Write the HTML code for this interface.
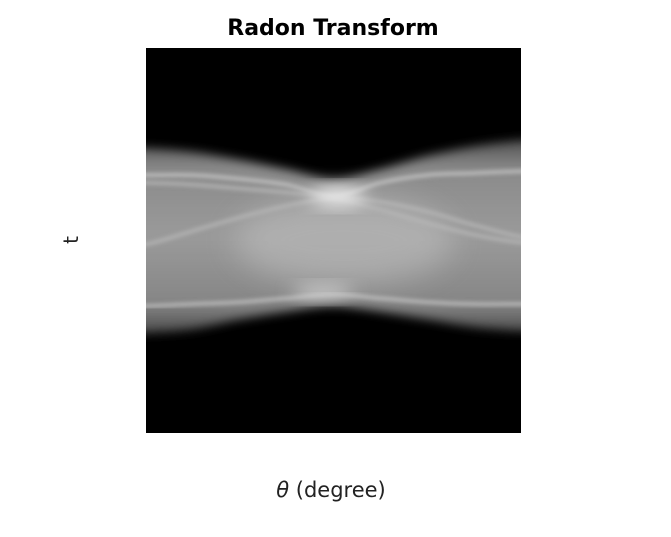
<!DOCTYPE html>
<html><head><meta charset="utf-8"><style>
body{margin:0;background:#fff;width:671px;height:533px;overflow:hidden;font-family:"DejaVu Sans","Liberation Sans",sans-serif}
</style></head><body>
<svg id="chart" width="671" height="533" viewBox="0 0 671 533" xmlns="http://www.w3.org/2000/svg">
<defs>
<filter id="b3" x="-10%" y="-20%" width="120%" height="140%"><feGaussianBlur stdDeviation="5"/></filter>
<filter id="b1" x="-10%" y="-20%" width="120%" height="140%"><feGaussianBlur stdDeviation="2"/></filter>
<filter id="b8" x="-50%" y="-50%" width="200%" height="200%"><feGaussianBlur stdDeviation="9"/></filter>
<filter id="b15" x="-50%" y="-50%" width="200%" height="200%"><feGaussianBlur stdDeviation="15"/></filter>
<linearGradient id="vg" x1="0" y1="0" x2="0" y2="1">
<stop offset="0" stop-color="#505050"/><stop offset="0.15" stop-color="#8a8a8a"/><stop offset="0.5" stop-color="#9a9a9a"/><stop offset="0.85" stop-color="#858585"/><stop offset="1" stop-color="#4a4a4a"/>
</linearGradient>
<clipPath id="clip"><rect x="146" y="48" width="375" height="385"/></clipPath>
</defs>
<text x="333" y="35" text-anchor="middle" font-size="22" font-weight="bold" fill="#000">Radon Transform</text>
<rect x="146" y="48" width="375" height="385" fill="#000"/>
<g id="img" clip-path="url(#clip)"></g>
<text transform="translate(78,240) rotate(-90)" text-anchor="middle" font-size="20" fill="#222">t</text>
<text x="331" y="497" text-anchor="middle" font-size="21" fill="#222"><tspan font-style="italic">θ</tspan> (degree)</text>
</svg>
<script>
const angles=[0,22.5,45,67.5,90,112.5,135,157.5,180];
const topEdge=[0.48,0.46,0.42,0.37,0.32,0.37,0.44,0.49,0.52];
const bottomEdge=[-0.48,-0.46,-0.41,-0.37,-0.34,-0.37,-0.41,-0.45,-0.47];
const lineTop=[0.34,0.34,0.32,0.29,0.23,0.3,0.34,0.35,0.36];
const lineBottom=[-0.34,-0.33,-0.32,-0.3,-0.28,-0.3,-0.32,-0.33,-0.33];
const diagUp=[-0.02,0.05,0.12,0.18,0.22,0.2,0.15,0.08,0.02];
const diagDown=[0.3,0.29,0.27,0.25,0.22,0.16,0.09,0.03,-0.01];
const x=a=>146+a/180*375;
const y=t=>240.5-t*192.5;
const NS='http://www.w3.org/2000/svg';
const g=document.getElementById('img');
function pts(arr){const p=arr.map((t,i)=>[x(angles[i]),y(t)]);p.unshift([p[0][0]-30,p[0][1]]);p.push([p[p.length-1][0]+30,p[p.length-1][1]]);return p;}
function smooth(p,start){let d=(start?'M':'L')+p[0][0].toFixed(1)+','+p[0][1].toFixed(1);
 for(let i=0;i<p.length-1;i++){const p0=p[i-1]||p[i],p1=p[i],p2=p[i+1],p3=p[i+2]||p2;
  d+=` C${(p1[0]+(p2[0]-p0[0])/6).toFixed(1)},${(p1[1]+(p2[1]-p0[1])/6).toFixed(1)} ${(p2[0]-(p3[0]-p1[0])/6).toFixed(1)},${(p2[1]-(p3[1]-p1[1])/6).toFixed(1)} ${p2[0].toFixed(1)},${p2[1].toFixed(1)}`;}
 return d;}
const bd=smooth(pts(topEdge),true)+' '+smooth(pts(bottomEdge).reverse(),false)+' Z';
const band=document.createElementNS(NS,'path');
band.setAttribute('d',bd);
band.setAttribute('fill','url(#vg)');
band.setAttribute('filter','url(#b3)');


g.appendChild(band);
const lens=document.createElementNS(NS,'ellipse');
lens.setAttribute('cx',x(95));lens.setAttribute('cy',y(0));lens.setAttribute('rx',110);lens.setAttribute('ry',45);
lens.setAttribute('fill','#bdbdbd');lens.setAttribute('opacity','0.6');lens.setAttribute('filter','url(#b15)');


g.appendChild(lens);
[[lineTop,'#c8c8c8',3],[lineBottom,'#c4c4c4',3],[diagUp,'#b8b8b8',3],[diagDown,'#b8b8b8',3]].forEach(([arr,c,w])=>{
 const p=document.createElementNS(NS,'path');
 p.setAttribute('d',smooth(pts(arr),true));
 p.setAttribute('fill','none');
 p.setAttribute('stroke',c);
 p.setAttribute('stroke-width',w);
 p.setAttribute('filter','url(#b1)');
 
 
 g.appendChild(p);
});
const spot=document.createElementNS(NS,'ellipse');
spot.setAttribute('cx',x(92));spot.setAttribute('cy',y(0.23));spot.setAttribute('rx',28);spot.setAttribute('ry',9);
spot.setAttribute('fill','#f2f2f2');spot.setAttribute('filter','url(#b8)');


g.appendChild(spot);
const spot2=document.createElementNS(NS,'ellipse');
spot2.setAttribute('cx',x(85));spot2.setAttribute('cy',y(-0.27));spot2.setAttribute('rx',30);spot2.setAttribute('ry',7);
spot2.setAttribute('fill','#d0d0d0');spot2.setAttribute('filter','url(#b8)');


g.appendChild(spot2);
</script>
</body></html>
